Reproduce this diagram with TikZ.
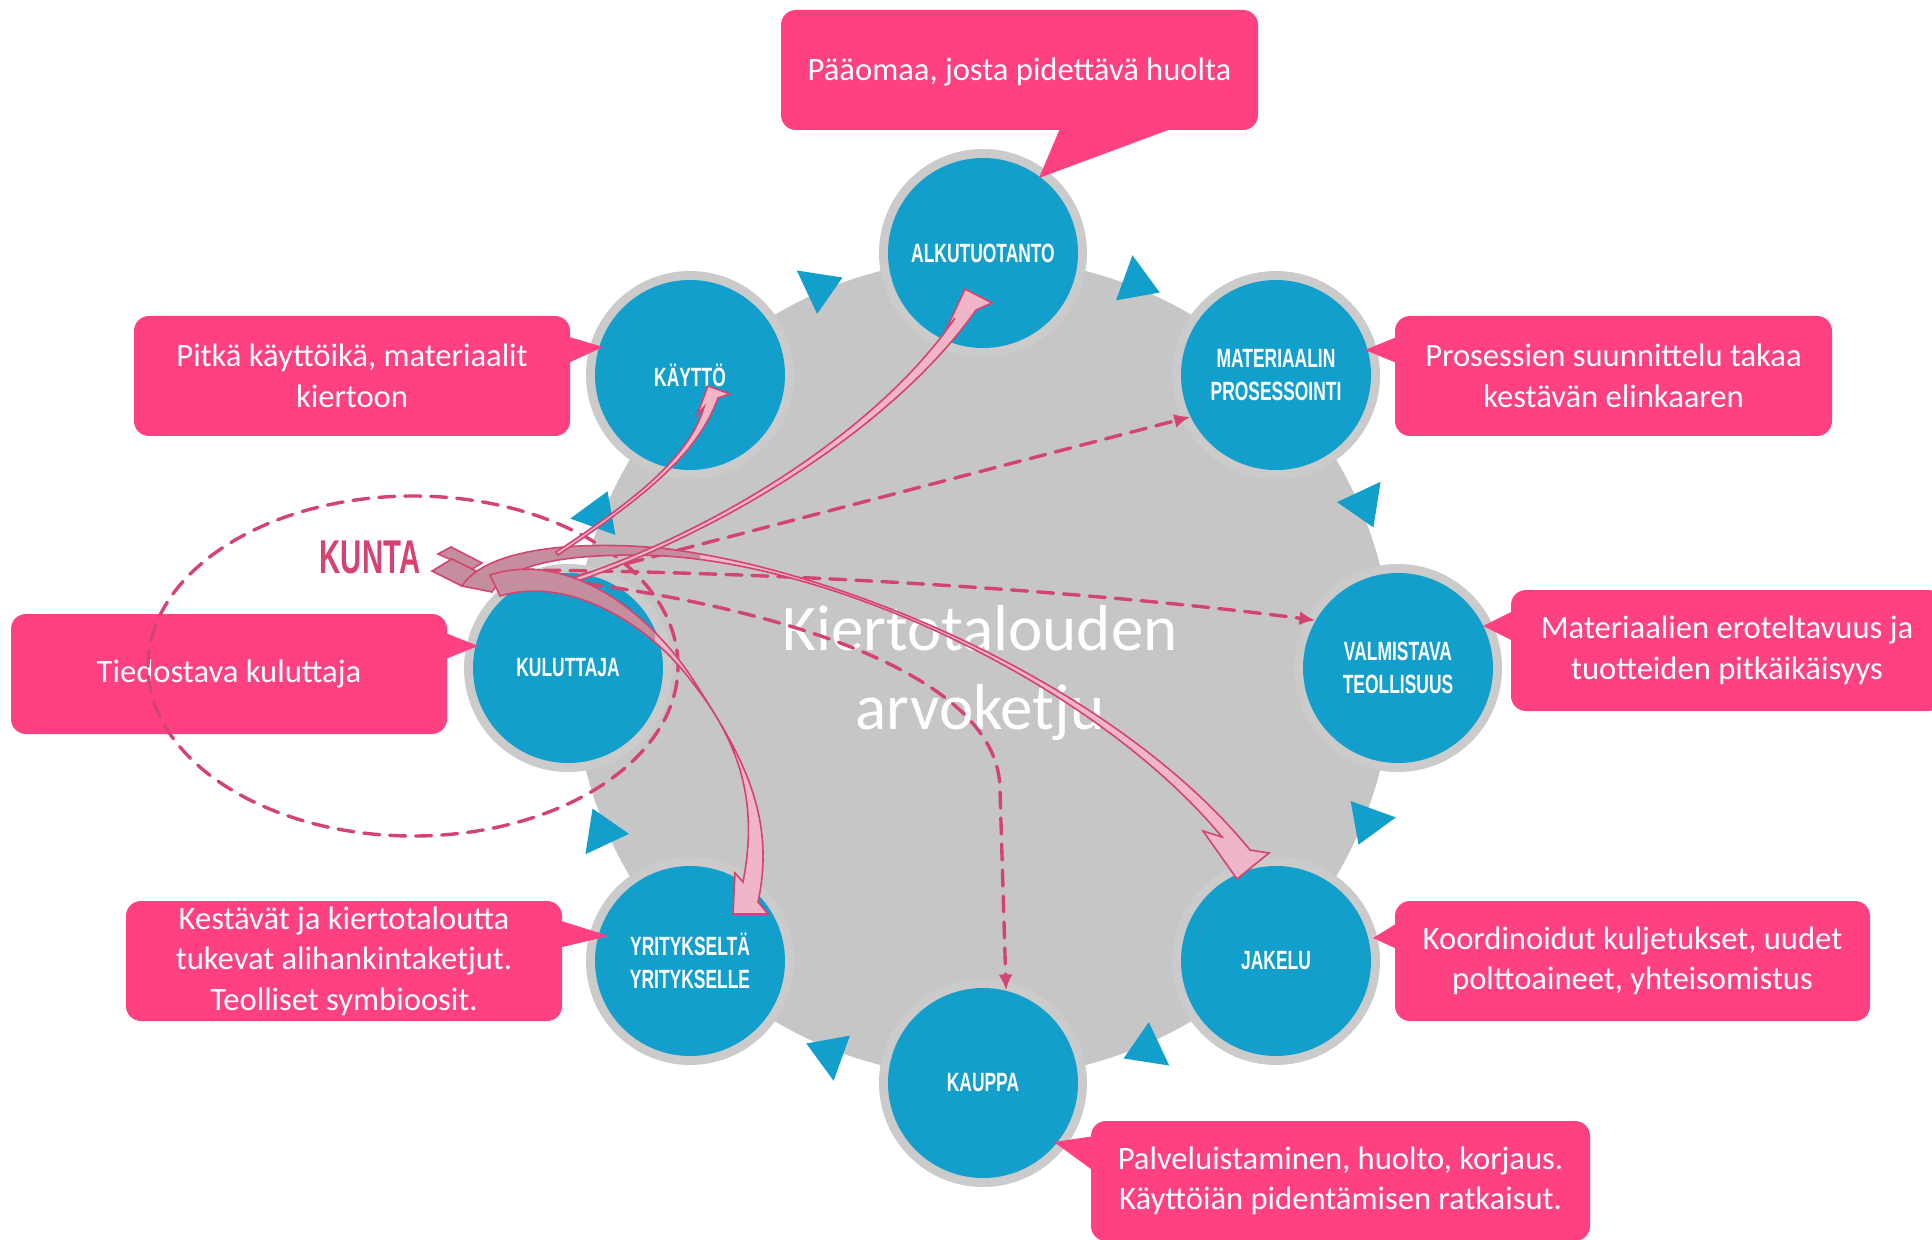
\documentclass[tikz,border=0pt]{standalone}
\usepackage{fontspec}
\setmainfont{Carlito}
\newfontfamily\ringfont[FakeStretch=0.66]{Liberation Sans}
\newfontfamily\kuntafont[FakeStretch=0.62]{Liberation Sans}
\usetikzlibrary{arrows.meta,calc}

\definecolor{ppink}{RGB}{255,64,129}
\definecolor{cblue}{RGB}{19,159,204}
\definecolor{dgray}{RGB}{198,198,198}
\definecolor{rgray}{RGB}{203,203,203}
\definecolor{kpink}{RGB}{212,68,112}
\definecolor{lpink}{RGB}{240,182,199}
\definecolor{mauve}{RGB}{196,142,158}

\tikzset{
  stage/.style={circle,fill=cblue,minimum size=95pt,inner sep=0pt,text=white,align=center,
    font=\ringfont\bfseries\fontsize{13.2}{16.5}\selectfont},
  callout/.style={rectangle,rounded corners=7.5pt,fill=ppink,text=white,minimum height=60pt,
    inner sep=0pt,align=center,font=\fontsize{16.3}{20.2}\selectfont},
  flow/.style={kpink,line width=1.7pt,dash pattern=on 8pt off 5pt},
  swoosh/.style={draw=kpink,line width=0.8pt,line join=miter},
}

\begin{document}
\begin{tikzpicture}[x=0.5pt,y=-0.5pt,line cap=round,>={Latex[length=8pt,width=7pt]}]
\useasboundingbox (0,0) rectangle (1932,1240);

% the value chain wheel
\coordinate (c) at (983,668);
\fill[dgray] (c) circle (205pt);
\foreach \p in {(983,253),(690,375),(1276,375),(568,668),(1398,668),(690,961),(1276,961),(983,1083)}
  \fill[rgray] \p circle (52pt);
\foreach \a in {22.5,67.5,...,337.5}
  \fill[cblue] ($(c)+(-\a-2.6:391)$) -- ($(c)+(-\a-2.6:439)$) -- ($(c)+(-\a+2.7:415)$) -- cycle;

\node[stage] (alku) at (983,253) {ALKUTUOTANTO};
\node[stage] (kaytto) at (690,375) {KÄYTTÖ};
\node[stage] (mat) at (1276,375) {MATERIAALIN\\PROSESSOINTI};
\node[stage] (kulu) at (568,668) {KULUTTAJA};
\node[stage] (valm) at (1398,668) {VALMISTAVA\\TEOLLISUUS};
\node[stage] (yrit) at (690,961) {YRITYKSELTÄ\\YRITYKSELLE};
\node[stage] (jakelu) at (1276,961) {JAKELU};
\node[stage] (kauppa) at (983,1083) {KAUPPA};

% callouts
\node[callout,minimum width=238.5pt,text height=14pt,text depth=3pt] (paaoma) at (1019.5,70) {Pääomaa, josta pidettävä huolta};
\fill[ppink] (1061,126) -- (1039,178) -- (1179,126) -- cycle;
\node[callout,minimum width=218pt] (pitka) at (352,376) {Pitkä käyttöikä, materiaalit\\kiertoon};
\fill[ppink] (566,336) -- (603,347) -- (566,364) -- cycle;
\node[callout,minimum width=218.5pt] (prosessi) at (1613.5,376) {Prosessien suunnittelu takaa\\kestävän elinkaaren};
\fill[ppink] (1399,336) -- (1365,350) -- (1399,364) -- cycle;
\node[callout,minimum width=218pt] (tiedostava) at (229,674) {Tiedostava kuluttaja};
\fill[ppink] (443,632) -- (478,646) -- (443,660) -- cycle;
\node[callout,minimum width=218pt] (kestavat) at (344,961) {Kestävät ja kiertotaloutta\\tukevat alihankintaketjut.\\Teolliset symbioosit.};
\fill[ppink] (558,920) -- (609,936) -- (558,948) -- cycle;
\node[callout,minimum width=216pt,minimum height=60.5pt] (erottelu) at (1727,650.5) {Materiaalien eroteltavuus ja\\tuotteiden pitkäikäisyys};
\fill[ppink] (1515,610) -- (1483,626) -- (1515,642) -- cycle;
\node[callout,minimum width=237.5pt] (kuljetus) at (1632.5,961) {Koordinoidut kuljetukset, uudet\\polttoaineet, yhteisomistus};
\fill[ppink] (1399,922) -- (1373,938) -- (1399,950) -- cycle;
\node[callout,minimum width=249.5pt] (palvelu) at (1340.5,1181) {Palveluistaminen, huolto, korjaus.\\Käyttöiän pidentämisen ratkaisut.};
\fill[ppink] (1095,1136) -- (1054,1142) -- (1095,1172) -- cycle;

\node[text=white,align=center,font=\fontsize{32.5}{39.5}\selectfont] (otsikko) at (980,673) {Kiertotalouden\\arvoketju};

% municipality reach
\draw[flow] (413,666) ellipse [x radius=132.5pt, y radius=85pt];
\coordinate (hubA) at (552,583);
\coordinate (hubB) at (518,570);
\coordinate (hubC) at (560,580);
\draw[flow,->] (hubA) -- (mat.206);
\draw[flow,->] (hubB) .. controls (800,572) and (1100,592) .. (valm.150);
\draw[flow,->] (hubC) .. controls (800,610) and (1000,680) .. (1000,790) -- (kauppa.76);

% swoosh arrows
\fill[mauve,swoosh] (438,554) -- (451,547) -- (482,563) -- (472,569) -- cycle;
\fill[mauve,swoosh] (432,571) -- (452,559) -- (476,571) -- (462,586) -- cycle;
\def\ribA{(462,586) .. controls (485,550) and (570,540) .. (660,548) .. controls (850,570) and (1120,690) .. (1250,850) -- (1269,853) -- (1237,879) -- (1203,831) -- (1222,837) .. controls (1100,690) and (850,568) .. (665,556) .. controls (575,552) and (510,562) .. (492,592) -- cycle}
\fill[lpink] \ribA;
\begin{scope}
  \clip (400,500) rectangle (700,620);
  \fill[mauve] \ribA;
\end{scope}
\draw[swoosh] \ribA;
\fill[lpink,swoosh] (556,552) .. controls (640,497) and (690,455) .. (704,407) -- (697,415) -- (708,386) -- (730,394) -- (718,398) .. controls (697,456) and (641,499) .. (558,555) -- cycle;
\fill[lpink,swoosh] (570,579) .. controls (720,530) and (880,428) .. (955,318) -- (945,332) -- (965,289) -- (992,303) -- (976,310) .. controls (893,428) and (722,532) .. (572,583) -- cycle;
\def\ribB{(490,575) .. controls (560,552) and (640,600) .. (692,678) .. controls (735,745) and (778,810) .. (758,902) -- (768,914) -- (733,914) -- (735,873) -- (743,882) .. controls (758,805) and (742,745) .. (692,682) .. controls (650,625) and (570,575) .. (500,596) -- cycle}
\fill[lpink] \ribB;
\begin{scope}
  \clip (400,500) rectangle (655,700);
  \fill[mauve] \ribB;
\end{scope}
\draw[swoosh] \ribB;

\node[text=kpink,font=\kuntafont\bfseries\fontsize{23.7}{28}\selectfont] (kunta) at (370,557) {KUNTA};
\end{tikzpicture}
\end{document}
